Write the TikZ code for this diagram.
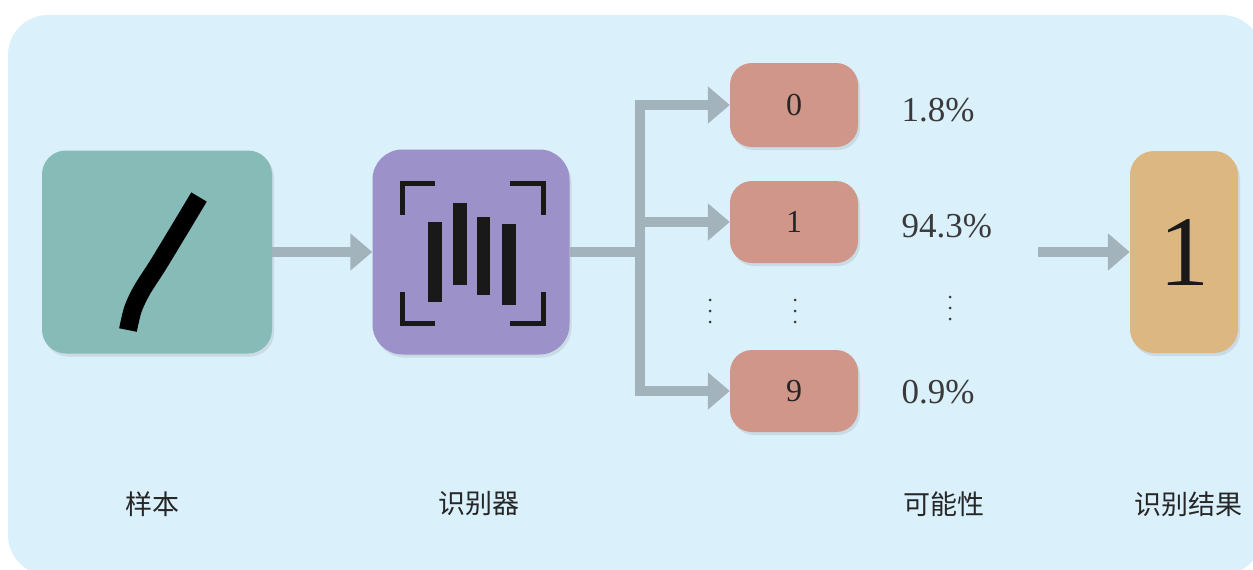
\documentclass[tikz,border=0pt]{standalone}
\usepackage{fontspec}
\setmainfont{Liberation Serif}
\newfontfamily\cjk{Noto Sans CJK SC}
\usetikzlibrary{arrows.meta,shadows}

\definecolor{panelblue}{HTML}{DAF0FB}
\definecolor{sampleteal}{HTML}{87BBB7}
\definecolor{recpurple}{HTML}{9C92C9}
\definecolor{digitred}{HTML}{D0968A}
\definecolor{resulttan}{HTML}{DDB781}
\definecolor{flowgray}{HTML}{A3B3BC}
\definecolor{textgray}{HTML}{3A3A3A}

\begin{document}
\begin{tikzpicture}[x=1pt,y=-1pt,
	box/.style={rounded corners=#1,inner sep=0pt,
		drop shadow={opacity=0.18,shadow xshift=2pt,shadow yshift=-3pt}},
	box/.default=24pt,
	flow/.style={draw=flowgray,line width=10pt,
		-{Triangle[length=22pt,width=36pt]}},
	digit/.style={font=\fontsize{32}{32}\selectfont,text=black!85},
	prob/.style={anchor=west,font=\fontsize{35}{35}\selectfont,text=textgray},
	more/.style={minimum width=10pt,minimum height=32pt,inner sep=0pt,
		path picture={
			\foreach \dy in {-11,0,11}
				\fill[textgray] ([yshift=\dy pt]path picture bounding box.center) circle (1.5pt);
		}},
	caption/.style={font=\cjk\fontsize{27}{27}\selectfont,text=black!85},
	glyph/.style={line width=5pt,draw=black!90}]

	\useasboundingbox (0,0) rectangle (1253,570);
	% panel
	\fill[panelblue,rounded corners=40pt] (8,15) rectangle (1262,575);

	% boxes
	\node[box,fill=sampleteal,minimum width=230pt,minimum height=203pt] (sample) at (157,252) {};
	\node[box=30pt,fill=recpurple,minimum width=197pt,minimum height=205pt] (rec) at (471,252) {};
	\node[box=22pt,fill=digitred,minimum width=128pt,minimum height=84pt,digit] (d0) at (794,105) {0};
	\node[box=22pt,fill=digitred,minimum width=128pt,minimum height=82pt,digit] (d1) at (794,222) {1};
	\node[box=22pt,fill=digitred,minimum width=128pt,minimum height=82pt,digit] (d9) at (794,391) {9};
	\node[box,fill=resulttan,minimum width=108pt,minimum height=202pt,
		font=\fontsize{100}{100}\selectfont,text=black!90] (result) at (1184,252) {1};

	% handwritten stroke
	\draw[line width=18pt,black,line join=round] plot[smooth,tension=0.5]
		coordinates {(199,197) (178,232) (158,265) (142,290) (133,309) (128,330)};

	% recognizer icon
	\draw[glyph] (402,215) -- (402,183) -- (435,183);
	\draw[glyph] (510,183) -- (543,183) -- (543,215);
	\draw[glyph] (402,292) -- (402,323) -- (435,323);
	\draw[glyph] (510,323) -- (543,323) -- (543,292);
	\fill[black!90] (428,222) rectangle (442,302);
	\fill[black!90] (453,203) rectangle (467,285);
	\fill[black!90] (477,217) rectangle (490,295);
	\fill[black!90] (502,224) rectangle (516,305);

	% probabilities
	\node[prob] (p0) at (898,110) {1.8\%};
	\node[prob] (p1) at (898,226) {94.3\%};
	\node[prob] (p9) at (898,392) {0.9\%};
	\node[more] (m1) at (710,311) {};
	\node[more] (m2) at (795,311) {};
	\node[more] (m3) at (950,308) {};

	% arrows
	\coordinate (trunk) at (640,252);
	\coordinate (tail) at (1038,252);
	\path[flow] (sample.east) -- (rec.west);
	\draw[flow] (rec.east) -- (trunk) |- (d0.west);
	\draw[flow] (rec.east) -- (trunk) |- (d9.west);
	\draw[flow] (trunk) |- (d1.west);
	\draw[flow] (tail) -- (result.west);

	% captions
	\node[caption] (c1) at (152,504) {样本};
	\node[caption] (c2) at (479,504) {识别器};
	\node[caption] (c3) at (944,504) {可能性};
	\node[caption] (c4) at (1188,504) {识别结果};
\end{tikzpicture}
\end{document}
